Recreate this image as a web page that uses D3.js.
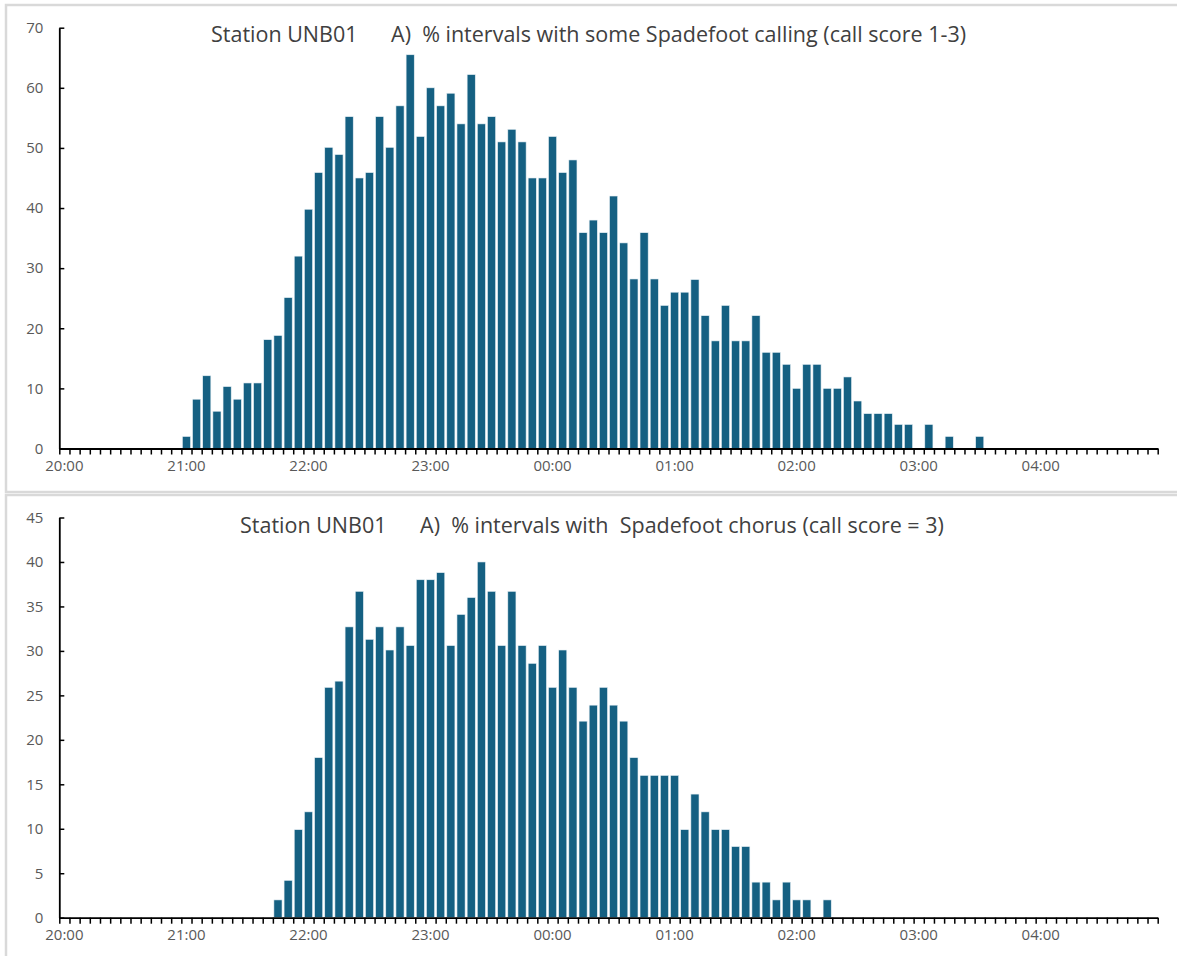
<!DOCTYPE html>
<html>
<head>
<meta charset="utf-8">
<script src="https://cdn.jsdelivr.net/npm/d3@7"></script>
<style>
  body { margin: 0; background: #fff; }
  .chart text { font-family: "Open Sans", "Noto Sans", sans-serif; }
  .tick text { fill: #595959; font-size: 15px; }
  .title { fill: #404040; font-size: 21.5px; white-space: pre; }
</style>
</head>
<body>
<svg class="chart"></svg>
<script>

// 5-minute intervals from 20:00 to 04:55 (108 of them)
var hourLabels = ["20:00", "21:00", "22:00", "23:00", "00:00", "01:00", "02:00", "03:00", "04:00"];

// A) % intervals with some calling (score 1-3), one row per hour
var someCalling = [
  0, 0, 0, 0, 0, 0, 0, 0, 0, 0, 0, 0,
  2, 8.2, 12.1, 6.2, 10.3, 8.2, 10.9, 10.9, 18.1, 18.8, 25.1, 32.0,
  39.8, 45.9, 50.1, 48.9, 55.2, 45.0, 45.9, 55.2, 50.1, 57.0, 65.5, 51.9,
  60.0, 57.0, 59.1, 54.0, 62.2, 54.0, 55.2, 51.0, 53.1, 51.0, 45.0, 45.0,
  51.9, 45.9, 48.0, 35.9, 38.0, 35.9, 42.0, 34.2, 28.2, 35.9, 28.2, 23.8,
  26.0, 26.0, 28.1, 22.1, 17.9, 23.8, 17.9, 17.9, 22.1, 16.0, 16.0, 14.0,
  10.0, 14.0, 14.0, 10.0, 10.0, 11.9, 7.9, 5.8, 5.8, 5.8, 4.0, 4.0,
  0, 4.0, 0, 2.0, 0, 0, 2.0, 0, 0, 0, 0, 0,
  0, 0, 0, 0, 0, 0, 0, 0, 0, 0, 0, 0
];

// % intervals with chorus (score = 3)
var chorus = [
  0, 0, 0, 0, 0, 0, 0, 0, 0, 0, 0, 0,
  0, 0, 0, 0, 0, 0, 0, 0, 0, 2.0, 4.2, 9.9,
  11.9, 18.0, 25.9, 26.6, 32.7, 36.7, 31.3, 32.7, 30.1, 32.7, 30.6, 38.0,
  38.0, 38.8, 30.6, 34.1, 36.0, 40.0, 36.7, 30.6, 36.7, 30.6, 28.6, 30.6,
  25.9, 30.1, 25.9, 22.1, 23.9, 25.9, 23.9, 22.1, 18.0, 16.0, 16.0, 16.0,
  16.0, 9.9, 13.9, 11.9, 9.9, 9.9, 8.0, 8.0, 4.0, 4.0, 2.0, 4.0,
  2.0, 2.0, 0, 2.0, 0, 0, 0, 0, 0, 0, 0, 0,
  0, 0, 0, 0, 0, 0, 0, 0, 0, 0, 0, 0,
  0, 0, 0, 0, 0, 0, 0, 0, 0, 0, 0, 0
];

var titles = [
  "Station UNB01      A)  % intervals with some Spadefoot calling (call score 1-3)",
  "Station UNB01      A)  % intervals with  Spadefoot chorus (call score = 3)"
];
var yMaxes = [70, 45];
var ySteps = [10, 5];

var width = 1177;
var height = 956;
var barColor = "#156082";

var svg = d3.select(".chart")
  .attr("width", width)
  .attr("height", height);

// panel frames
svg.append("rect")
  .attr("x", 6).attr("y", 5).attr("width", 1180).attr("height", 487)
  .attr("fill", "none").attr("stroke", "#d9d9d9").attr("stroke-width", 2.5);
svg.append("rect")
  .attr("x", 6).attr("y", 495).attr("width", 1180).attr("height", 480)
  .attr("fill", "none").attr("stroke", "#d9d9d9").attr("stroke-width", 2.5);

var x0 = 59.3, x1 = 1157.7;
var slots = d3.range(someCalling.length);

var xBand = d3.scaleBand()
  .domain(slots)
  .range([x0, x1])
  .paddingInner(0.2)
  .paddingOuter(0.1);

var xLin = d3.scaleLinear()
  .domain([0, slots.length])
  .range([x0, x1]);

var panels = [
  { data: someCalling, top: 27.7, bottom: 448.5, titleX: 211, titleY: 42 },
  { data: chorus, top: 517.5, bottom: 917.7, titleX: 240, titleY: 533 }
];

panels.forEach(function(p, i) {
  var y = d3.scaleLinear()
    .domain([0, yMaxes[i]])
    .range([p.bottom, p.top]);

  var g = svg.append("g");

  g.append("text")
    .attr("class", "title")
    .attr("x", p.titleX)
    .attr("y", p.titleY)
    .text(titles[i]);

  var bars = p.data
    .map(function(v, s) { return { slot: s, value: v }; })
    .filter(function(d) { return d.value > 0; });

  g.selectAll("rect.bar")
    .data(bars)
    .enter()
    .append("rect")
    .attr("class", "bar")
    .attr("x", function(d) { return xBand(d.slot); })
    .attr("y", function(d) { return y(d.value); })
    .attr("width", xBand.bandwidth())
    .attr("height", function(d) { return p.bottom - y(d.value); })
    .attr("fill", barColor)
    .attr("stroke", "#e8f0f5")
    .attr("stroke-width", 0.6);

  // y axis, ticks pointing inward
  var yAxis = d3.axisLeft(y)
    .tickValues(d3.range(0, yMaxes[i] + 1, ySteps[i]))
    .tickSizeInner(-5)
    .tickSizeOuter(0)
    .tickPadding(16);
  var yg = g.append("g")
    .attr("transform", "translate(" + x0 + ",0)")
    .call(yAxis);
  yg.select(".domain").attr("stroke", "#000").attr("stroke-width", 1.8);
  yg.selectAll(".tick line").attr("stroke", "#000").attr("stroke-width", 1.5);

  // x axis: tick marks between intervals
  var xAxis = d3.axisBottom(xLin)
    .tickValues(d3.range(0, slots.length + 1))
    .tickFormat("")
    .tickSizeInner(6)
    .tickSizeOuter(0);
  var xg = g.append("g")
    .attr("transform", "translate(0," + p.bottom + ")")
    .call(xAxis);
  xg.select(".domain").attr("stroke", "#000").attr("stroke-width", 1.8);
  xg.selectAll(".tick line").attr("stroke", "#000").attr("stroke-width", 1.5);

  // hour labels under their interval
  var labelAxis = d3.axisBottom(xBand)
    .tickValues(slots.filter(function(s) { return s % 12 === 0; }))
    .tickFormat(function(s) { return hourLabels[s / 12]; })
    .tickSize(0)
    .tickPadding(12);
  var lg = g.append("g")
    .attr("transform", "translate(0," + p.bottom + ")")
    .call(labelAxis);
  lg.select(".domain").remove();
});

</script>
</body>
</html>
